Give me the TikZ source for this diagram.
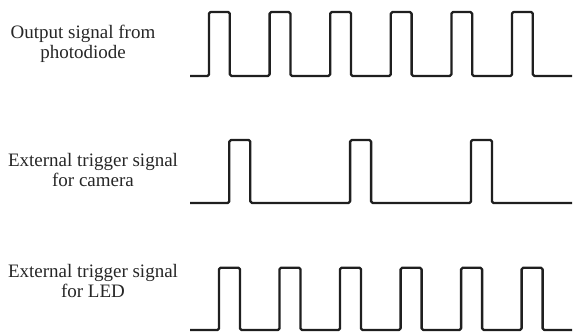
\documentclass[tikz,border=0pt]{standalone}
\usepackage{fontspec}
\setmainfont{Liberation Serif}
\begin{document}
\begin{tikzpicture}[x=1pt,y=-1pt,
  wave/.style={line width=2.3pt,draw={black!88},rounded corners=1.6pt,line join=round},
  label/.style={align=center,anchor=base,inner sep=0pt,
    font=\fontsize{19}{20}\selectfont,text=black!85}]
\useasboundingbox (0,0) rectangle (573,333);
% signal labels (base anchor sits on the last line)
\node[label] (lpd)  at (83,58)  {Output signal from\\photodiode};
\node[label] (lcam) at (93,186.5) {External trigger signal\\for camera};
\node[label] (lled) at (93,297) {External trigger signal\\for LED};
% photodiode output: six pulses
\draw[wave] (190,76)
  foreach \x in {209,269.6,330.2,390.8,451.4,512} {
    -- (\x,76) -- (\x,12) -- (\x+20.8,12) -- (\x+20.8,76) }
  -- (572,76);
% camera trigger: three pulses
\draw[wave] (190,203)
  foreach \x in {229.3,350.1,471} {
    -- (\x,203) -- (\x,140) -- (\x+21,140) -- (\x+21,203) }
  -- (572,203);
% LED trigger: six pulses
\draw[wave] (190,330)
  foreach \x in {219,279.5,340,400.6,461.1,521.6} {
    -- (\x,330) -- (\x,267.7) -- (\x+21,267.7) -- (\x+21,330) }
  -- (572,330);
\end{tikzpicture}
\end{document}
